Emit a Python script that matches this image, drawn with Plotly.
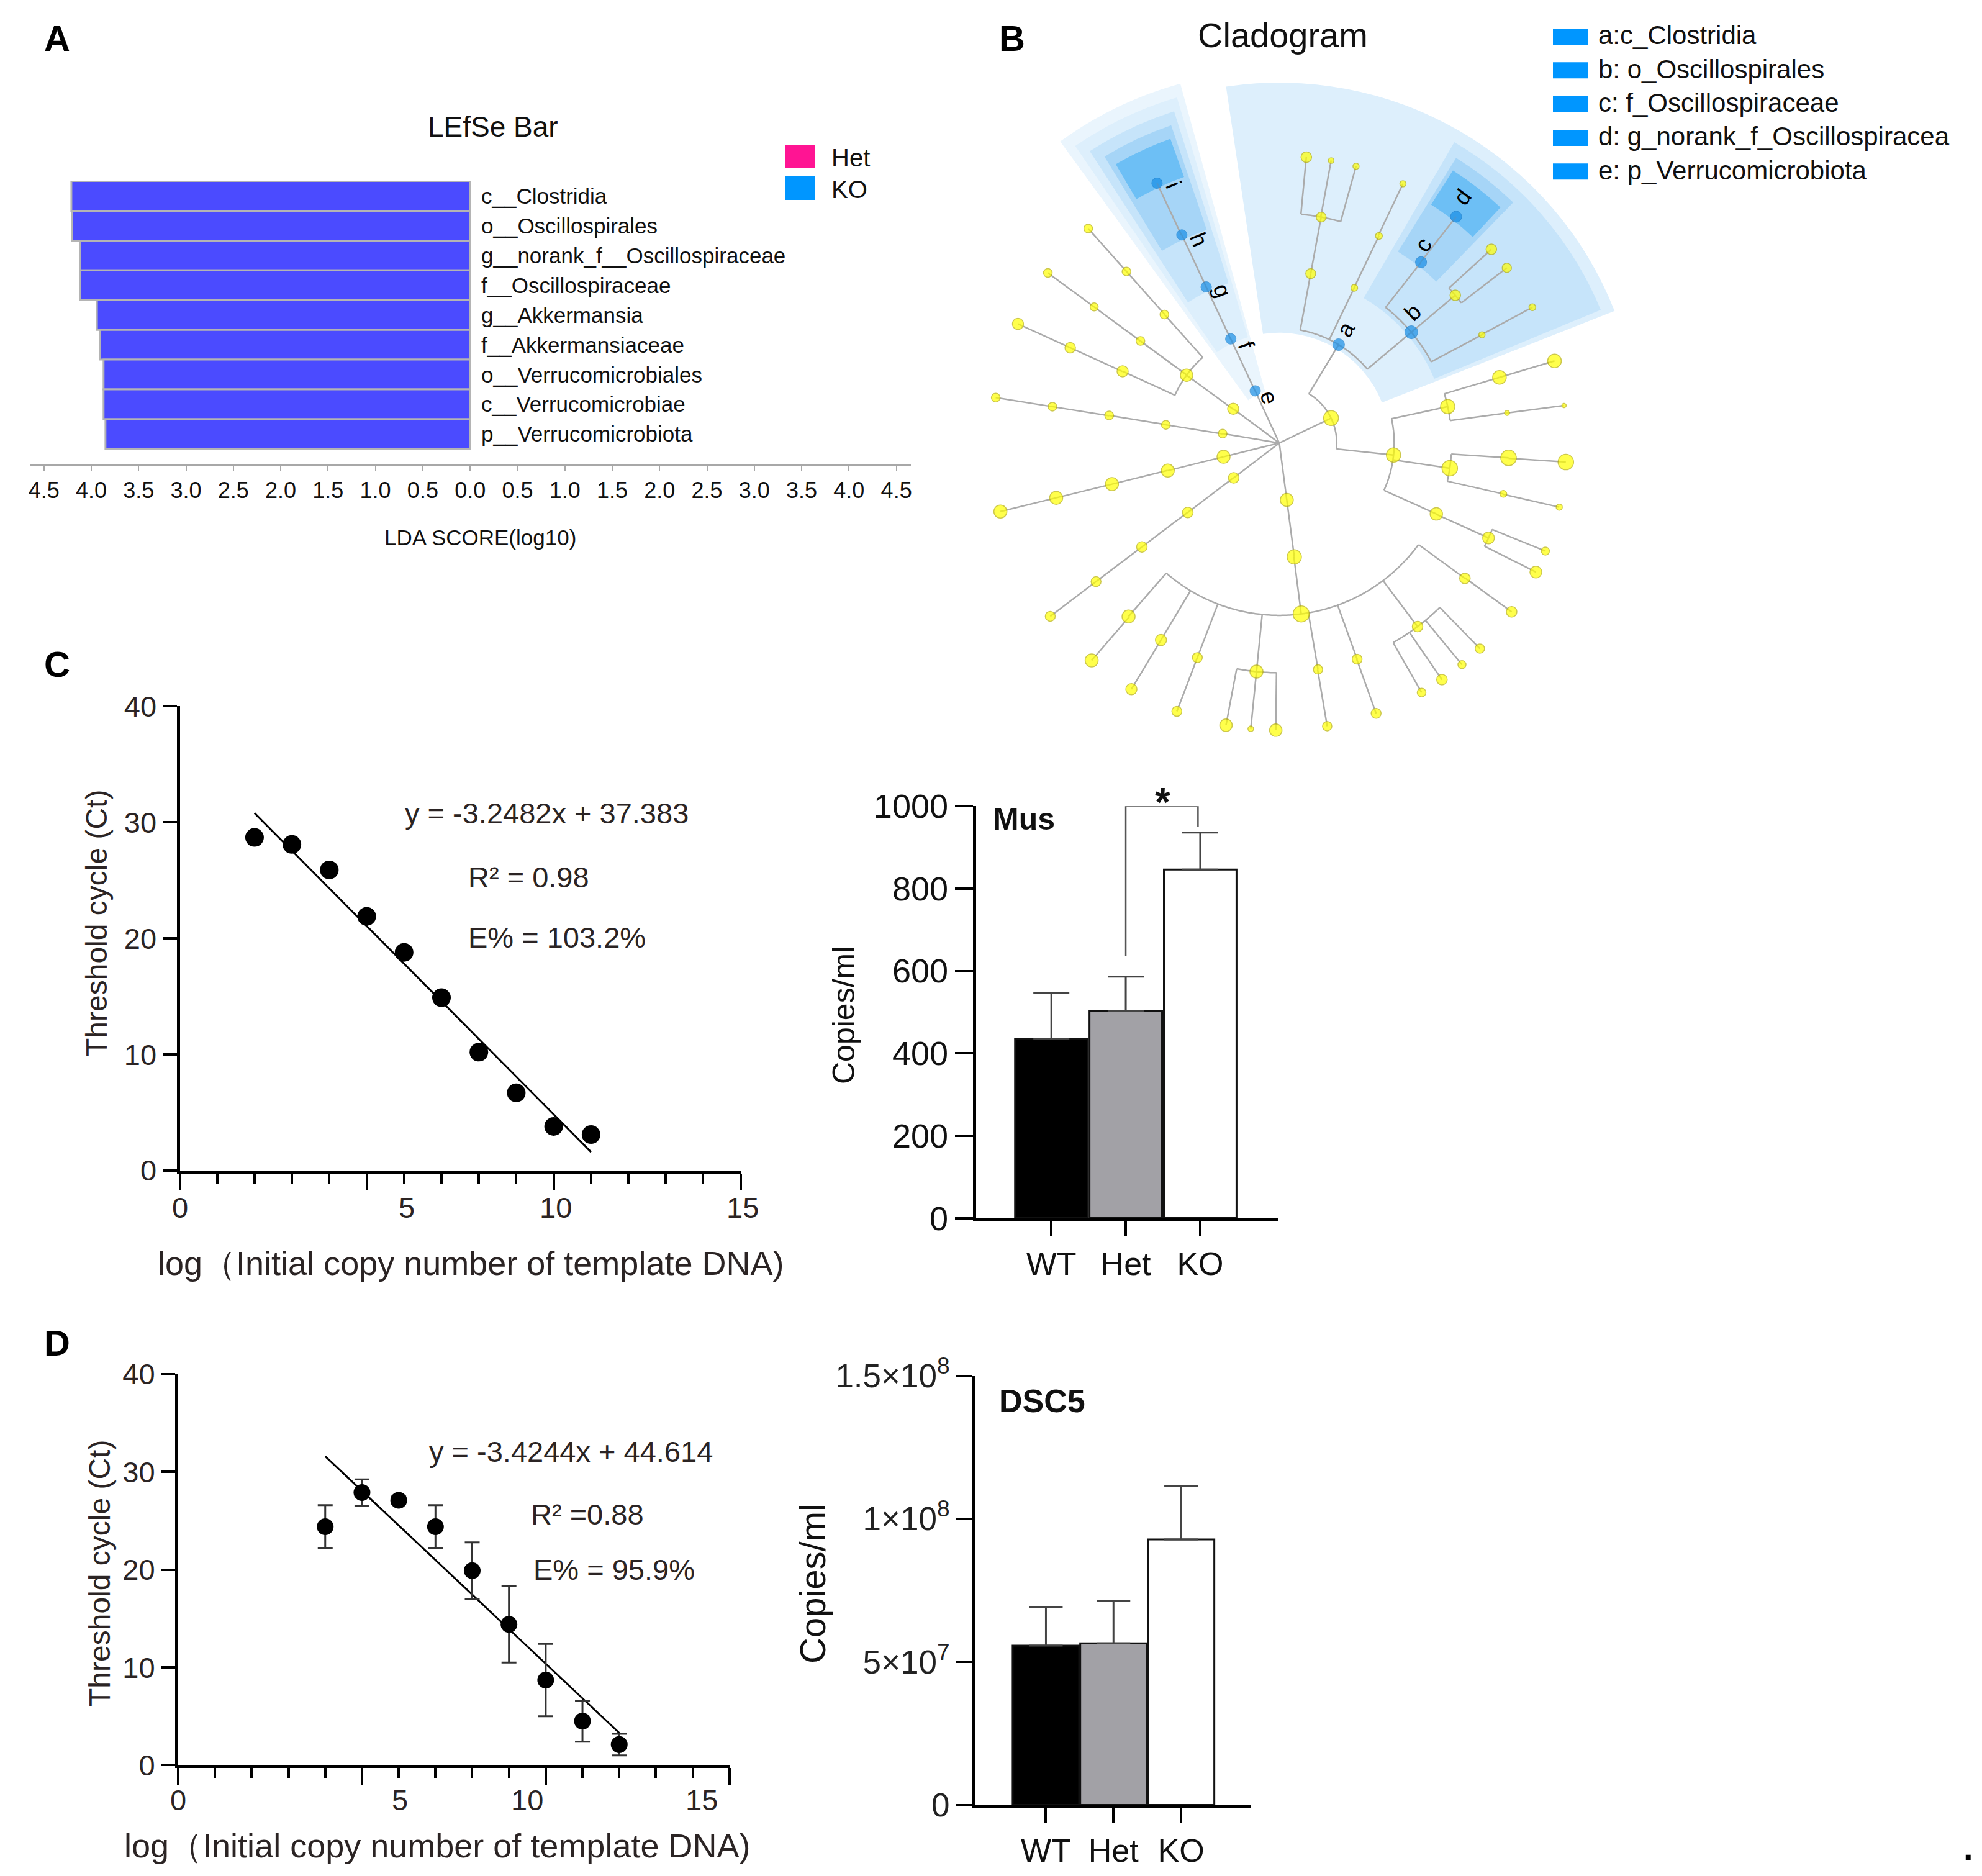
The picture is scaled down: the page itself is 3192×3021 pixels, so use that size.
import math
import plotly.graph_objects as go

W, H = 3192, 3021
FONT = "Liberation Sans, Arial, sans-serif"
DARK = "#2b2424"

# ---------------- Panel A : LEfSe bar ----------------
lefse_taxa = ["c__Clostridia", "o__Oscillospirales", "g__norank_f__Oscillospiraceae",
              "f__Oscillospiraceae", "g__Akkermansia", "f__Akkermansiaceae",
              "o__Verrucomicrobiales", "c__Verrucomicrobiae", "p__Verrucomicrobiota"]
lefse_lda = [4.21, 4.20, 4.12, 4.12, 3.94, 3.91, 3.87, 3.87, 3.85]
lda_tick_values = [-4.5, -4.0, -3.5, -3.0, -2.5, -2.0, -1.5, -1.0, -0.5, 0.0,
                   0.5, 1.0, 1.5, 2.0, 2.5, 3.0, 3.5, 4.0, 4.5]
lda_tick_text = ["4.5", "4.0", "3.5", "3.0", "2.5", "2.0", "1.5", "1.0", "0.5", "0.0",
                 "0.5", "1.0", "1.5", "2.0", "2.5", "3.0", "3.5", "4.0", "4.5"]
lefse_groups = ["Het", "KO"]
lefse_group_colors = ["#FF1493", "#0096FF"]

# ---------------- Panel B : cladogram ----------------
clade_id = ["P1", "a", "a1", "a1x", "a1x1", "a1x2", "a1x3", "a2", "a2x", "a2x1",
            "b", "c", "d", "b2", "b2a", "b2b", "b3", "b3a",
            "B1", "B1a", "B1a1", "B1a1x", "B1a2", "B1a2x", "B1b", "B1b1", "B1b1x", "B1b2", "B1b2x",
            "B1c", "B1c1", "B1c1a", "B1c1b",
            "P2", "P2c", "P2o", "F1", "F1x", "F2", "F2x", "F3", "F3x", "F4", "F4a", "F4b", "F4c",
            "F5", "F5x", "F6", "F6x", "F7", "F7a", "F7b", "F7c", "F7d", "F8", "F8x",
            "P3", "P3c", "P3o", "P3f", "P3g",
            "P4", "P4c", "P4o", "P4f", "P4g",
            "P5", "P5c", "P5o", "P5f", "P5g",
            "P6", "D", "C3", "C4", "C5", "H3", "H4", "H5", "E3", "E4", "E5",
            "e", "f", "g", "h", "i"]
clade_parent = ["root", "P1", "a", "a1", "a1x", "a1x", "a1x", "a", "a2", "a2x",
                "a", "b", "c", "b", "b2", "b2", "b", "b3",
                "P1", "B1", "B1a", "B1a1", "B1a", "B1a2", "B1", "B1b", "B1b1", "B1b", "B1b2",
                "B1", "B1c", "B1c1", "B1c1",
                "root", "P2", "P2c", "P2o", "F1", "P2o", "F2", "P2o", "F3", "P2o", "F4", "F4", "F4",
                "P2o", "F5", "P2o", "F6", "P2o", "F7", "F7", "F7", "F7", "P2o", "F8",
                "root", "P3", "P3c", "P3o", "P3f",
                "root", "P4", "P4c", "P4o", "P4f",
                "root", "P5", "P5c", "P5o", "P5f",
                "root", "P6", "D", "C3", "C4", "D", "H3", "H4", "D", "E3", "E4",
                "root", "e", "f", "g", "h"]
clade_level = [1, 2, 3, 4, 5, 5, 5, 3, 4, 5,
               3, 4, 5, 4, 5, 5, 4, 5,
               2, 3, 4, 5, 4, 5, 3, 4, 5, 4, 5,
               3, 4, 5, 5,
               1, 2, 3, 4, 5, 4, 5, 4, 5, 4, 5, 5, 5,
               4, 5, 4, 5, 4, 5, 5, 5, 5, 4, 5,
               1, 2, 3, 4, 5,
               1, 2, 3, 4, 5,
               1, 2, 3, 4, 5,
               1, 2, 3, 4, 5, 3, 4, 5, 3, 4, 5,
               1, 2, 3, 4, 5]
clade_angle = [25.7, 58.9, 79.5, 79.5, 84.6, 79.6, 74.5, 64.2, 64.3, 64.5,
               40.0, 51.9, 52.0, 40.0, 42.4, 37.6, 28.1, 28.2,
               -6.0, 12.2, 16.6, 16.6, 7.5, 7.5, -8.4, -3.7, -3.8, -12.8, -12.9,
               -24.3, -24.4, -22.1, -26.7,
               277.5, 277.5, 277.3, 229.0, 229.2, 239.0, 239.0, 249.1, 249.1, 264.3, 259.3, 264.3, 269.3,
               279.7, 279.6, 289.8, 289.7, 307.0, 299.7, 304.5, 309.5, 314.3, 323.9, 324.0,
               217.4, 217.2, 217.1, 217.1, 217.1,
               193.9, 193.9, 193.8, 193.8, 193.8,
               170.6, 170.9, 170.8, 170.9, 170.9,
               143.4, 143.8, 131.8, 131.7, 131.7, 143.7, 143.7, 143.7, 155.4, 155.5, 155.5,
               114.8, 115.0, 115.1, 115.1, 115.2]
clade_size = [24, 19, 16, 16, 17, 9, 10, 11, 11, 10,
              21, 18, 18, 17, 17, 15, 10, 11,
              23, 23, 22, 22, 8, 7, 25, 25, 25, 11, 10,
              20, 19, 13, 19,
              21, 23, 26, 21, 21, 18, 18, 16, 16, 21, 20, 9, 20,
              15, 15, 16, 16, 17, 14, 17, 13, 15, 17, 17,
              17, 17, 17, 16, 16,
              21, 21, 21, 21, 21,
              14, 14, 14, 14, 14,
              18, 20, 14, 14, 14, 14, 13, 14, 18, 17, 18,
              17, 17, 17, 17, 17]
clade_enriched = ["a", "b", "c", "d", "e", "f", "g", "h", "i"]
hl_theta_start = [21.5, 22.5, 45.8, 46.8, 105.4, 106.5, 107.6, 108.8, 109.7]
hl_theta_end = [98.5, 59.8, 58.2, 57.5, 126.0, 124.5, 123.0, 121.4, 120.4]
letter_r = [2.30, 3.26, 4.27, 5.34, 0.81, 1.80, 2.83, 3.80, 4.86]
letter_theta = [59.6, 44.4, 54.0, 53.3, 102.4, 109.0, 110.5, 111.6, 112.3]
clado_legend = ["a:c_Clostridia", "b: o_Oscillospirales", "c: f_Oscillospiraceae",
                "d: g_norank_f_Oscillospiracea", "e: p_Verrucomicrobiota"]

# ---------------- Panel C ----------------
c_log_copy = [2, 3, 4, 5, 6, 7, 8, 9, 10, 11]
c_ct = [28.7, 28.1, 25.9, 21.9, 18.8, 14.9, 10.2, 6.7, 3.8, 3.1]
c_fit_x = [2.0, 11.0]
c_fit_y = [30.8, 1.6]
c_xlabel_text = ["0", "5", "10", "15"]
c_xlabel_at = [0.0, 6.07, 10.05, 15.06]
groups = ["WT", "Het", "KO"]
group_colors = ["#000000", "#A2A1A6", "#FFFFFF"]
mus_mean = [435, 503, 846]
mus_sem = [111, 83, 90]
mus_sig_x = [2.0, 2.0, 2.97, 2.97]
mus_sig_y = [636, 1000, 1000, 949]

# ---------------- Panel D ----------------
d_log_copy = [4, 5, 6, 7, 8, 9, 10, 11, 12]
d_ct = [24.4, 27.9, 27.1, 24.4, 19.9, 14.4, 8.7, 4.5, 2.1]
d_ct_err = [2.2, 1.35, 0.4, 2.2, 2.9, 3.9, 3.7, 2.1, 1.1]
d_fit_x = [4.0, 12.0]
d_fit_y = [31.6, 3.3]
d_xlabel_at = [0.0, 6.04, 9.5, 14.24]
dsc5_mean = [5.57e7, 5.65e7, 9.28e7]
dsc5_sem = [1.35e7, 1.49e7, 1.87e7]


def px_x(x):
    return x / W


def px_y(y):
    return 1 - y / H


def note(x, y, text, size, color="#111111", xanchor="center", yanchor="middle",
         angle=0, xref="paper", yref="paper", bold=False):
    return dict(x=x, y=y, xref=xref, yref=yref, text=("<b>%s</b>" % text) if bold else text,
                showarrow=False, xanchor=xanchor, yanchor=yanchor, textangle=angle,
                font=dict(family=FONT, size=size, color=color))


# axis geometry (pixel positions of the plotting areas)
C_X0, C_X1 = 289.5, 1192.7
D_X0, D_X1 = 287.0, 1174.8
XRANGE = [0, 15]


def axis_paper(v, p0, p1, rng):
    return px_x(p0 + (v - rng[0]) / (rng[1] - rng[0]) * (p1 - p0))


fig = go.Figure()
ann = []
shapes = []

# ===== Panel A =====
n_taxa = len(lefse_taxa)
ypos = [n_taxa - 1 - k for k in range(n_taxa)]
fig.add_trace(go.Bar(
    x=[-v for v in lefse_lda], y=ypos, orientation="h", width=1.0,
    marker=dict(color="#4B4BFF", line=dict(color="#B4B4B4", width=3)),
    xaxis="x", yaxis="y", showlegend=False, hoverinfo="skip"))
for t, yy in zip(lefse_taxa, ypos):
    ann.append(note(0.105, yy, t, 35, xanchor="left", xref="x", yref="y"))
ann.append(note(px_x(794), px_y(204), "LEfSe Bar", 46))
ann.append(note(px_x(773), px_y(865), "LDA SCORE(log10)", 35))
for k, (g, col) in enumerate(zip(lefse_groups, lefse_group_colors)):
    yc = 252 + k * 51
    shapes.append(dict(type="rect", xref="paper", yref="paper",
                       x0=px_x(1265), x1=px_x(1312), y0=px_y(yc - 19), y1=px_y(yc + 19),
                       fillcolor=col, line=dict(width=0)))
    ann.append(note(px_x(1337), px_y(yc + 2), g, 40, xanchor="left"))

# ===== Panel B : cladogram (polar) =====
CX, CY = 2060.3, 713.4
LEVEL_PX = 92.5
R_MAX = 6.6
RP = R_MAX * LEVEL_PX
idx = {n: i for i, n in enumerate(clade_id)}
children = {}
for n, p in zip(clade_id, clade_parent):
    children.setdefault(p, []).append(n)

level_colors = {1: "#EAF5FD", 2: "#DDEFFC", 3: "#C6E4FA", 4: "#A6D5F7", 5: "#6DBFF5"}
sec_theta, sec_width, sec_base, sec_r, sec_col = [], [], [], [], []
for name, t0, t1 in zip(clade_enriched, hl_theta_start, hl_theta_end):
    lv = clade_level[idx[name]]
    r_in = lv - 0.08
    r_out = 6.49 - 0.216 * (lv - 1)
    sec_theta.append((t0 + t1) / 2)
    sec_width.append(t1 - t0)
    sec_base.append(r_in)
    sec_r.append(r_out - r_in)
    sec_col.append(level_colors[lv])
order = sorted(range(len(sec_theta)), key=lambda k: clade_level[idx[clade_enriched[k]]])
fig.add_trace(go.Barpolar(
    theta=[sec_theta[k] for k in order], width=[sec_width[k] for k in order],
    base=[sec_base[k] for k in order], r=[sec_r[k] for k in order],
    marker=dict(color=[sec_col[k] for k in order], line=dict(width=0)),
    subplot="polar", showlegend=False, hoverinfo="skip"))

edge_r, edge_t = [], []
for i, n in enumerate(clade_id):
    p = clade_parent[i]
    r0 = 0 if p == "root" else clade_level[idx[p]]
    edge_r += [r0, clade_level[i], None]
    edge_t += [clade_angle[i], clade_angle[i], None]
for p, kids in children.items():
    if p == "root":
        continue
    angs = [clade_angle[idx[k]] for k in kids] + [clade_angle[idx[p]]]
    lo, hi = min(angs), max(angs)
    if hi - lo < 0.05:
        continue
    steps = max(2, int((hi - lo) / 0.5) + 1)
    rr = clade_level[idx[p]]
    for j in range(steps + 1):
        edge_t.append(lo + (hi - lo) * j / steps)
        edge_r.append(rr)
    edge_r.append(None)
    edge_t.append(None)
fig.add_trace(go.Scatterpolar(r=edge_r, theta=edge_t, mode="lines",
                              line=dict(color="#ABABAB", width=2.5),
                              subplot="polar", showlegend=False, hoverinfo="skip",
                              connectgaps=False))
yel = [i for i, n in enumerate(clade_id) if n not in clade_enriched]
blu = [i for i, n in enumerate(clade_id) if n in clade_enriched]
fig.add_trace(go.Scatterpolar(
    r=[clade_level[i] for i in yel], theta=[clade_angle[i] for i in yel], mode="markers",
    marker=dict(size=[clade_size[i] for i in yel], color="#FFFF00",
                line=dict(color="#B9B200", width=1.5)),
    subplot="polar", showlegend=False, hoverinfo="skip"))
fig.add_trace(go.Scatterpolar(
    r=[clade_level[i] for i in blu], theta=[clade_angle[i] for i in blu], mode="markers",
    marker=dict(size=[clade_size[i] for i in blu], color="#1A8FE6",
                line=dict(color="#1479C8", width=1)),
    subplot="polar", showlegend=False, hoverinfo="skip"))

for name, lr, lt in zip(clade_enriched, letter_r, letter_theta):
    xx = CX + lr * LEVEL_PX * math.cos(math.radians(lt))
    yy = CY - lr * LEVEL_PX * math.sin(math.radians(lt))
    ang = -lt if lt < 90 else 180 - lt
    ann.append(note(px_x(xx), px_y(yy), name, 37, color="#000000", angle=ang))
ann.append(note(px_x(2066), px_y(57), "Cladogram", 56))
for k, t in enumerate(clado_legend):
    yc = 59 + k * 54.3
    shapes.append(dict(type="rect", xref="paper", yref="paper",
                       x0=px_x(2501), x1=px_x(2558), y0=px_y(yc - 13), y1=px_y(yc + 13),
                       fillcolor="#0096FF", line=dict(width=0)))
    ann.append(note(px_x(2572), px_y(yc - 2), t, 42, xanchor="left"))

# ===== Panel C : standard curve =====
fig.add_trace(go.Scatter(x=c_fit_x, y=c_fit_y, mode="lines", line=dict(color="black", width=3),
                         xaxis="x2", yaxis="y2", showlegend=False, hoverinfo="skip"))
fig.add_trace(go.Scatter(x=c_log_copy, y=c_ct, mode="markers",
                         marker=dict(color="black", size=30),
                         xaxis="x2", yaxis="y2", showlegend=False, hoverinfo="skip"))
for txt, xx, yy in [("y = -3.2482x + 37.383", 5.99, 30.8), ("R² = 0.98", 7.68, 25.3),
                    ("E% = 103.2%", 7.68, 20.1)]:
    ann.append(note(xx, yy, txt, 47, color=DARK, xanchor="left", xref="x2", yref="y2"))
for t, xx in zip(c_xlabel_text, c_xlabel_at):
    ann.append(note(axis_paper(xx, C_X0, C_X1, XRANGE), px_y(1944), t, 47, color=DARK))
ann.append(note(px_x(758), px_y(2034), "log（Initial copy number of template DNA)", 54, color=DARK))
ann.append(note(px_x(155), px_y(1487), "Threshold cycle (Ct)", 48, color=DARK, angle=-90))

# ===== Panel C : Mus bars =====
gx = [1, 2, 3]
fig.add_trace(go.Bar(x=gx, y=mus_mean, width=0.975,
                     marker=dict(color=group_colors, line=dict(color="#111111", width=3)),
                     error_y=dict(type="data", array=mus_sem, arrayminus=[0, 0, 0], symmetric=False,
                                  color="#444444", thickness=3, width=29),
                     xaxis="x3", yaxis="y3", showlegend=False, hoverinfo="skip"))
fig.add_trace(go.Scatter(x=mus_sig_x, y=mus_sig_y, mode="lines", line=dict(color="#555555", width=2.5),
                         xaxis="x3", yaxis="y3", showlegend=False, hoverinfo="skip", cliponaxis=False))
ann.append(note(px_x(1872), px_y(1292), "*", 64, bold=True))
ann.append(note(0.2, 968, "Mus", 50, xanchor="left", xref="x3", yref="y3", bold=True))
ann.append(note(px_x(1359), px_y(1635), "Copies/ml", 50, angle=-90))

# ===== Panel D : standard curve =====
fig.add_trace(go.Scatter(x=d_fit_x, y=d_fit_y, mode="lines", line=dict(color="black", width=3),
                         xaxis="x4", yaxis="y4", showlegend=False, hoverinfo="skip"))
fig.add_trace(go.Scatter(x=d_log_copy, y=d_ct, mode="markers",
                         marker=dict(color="black", size=27),
                         error_y=dict(type="data", array=d_ct_err, color="#333333", thickness=3, width=12),
                         xaxis="x4", yaxis="y4", showlegend=False, hoverinfo="skip"))
for txt, xx, yy in [("y = -3.4244x + 44.614", 6.79, 32.1), ("R² =0.88", 9.57, 25.7),
                    ("E% = 95.9%", 9.63, 20.0)]:
    ann.append(note(xx, yy, txt, 47, color=DARK, xanchor="left", xref="x4", yref="y4"))
for t, xx in zip(c_xlabel_text, d_xlabel_at):
    ann.append(note(axis_paper(xx, D_X0, D_X1, XRANGE), px_y(2898), t, 47, color=DARK))
ann.append(note(px_x(704), px_y(2972), "log（Initial copy number of template DNA)", 54, color=DARK))
ann.append(note(px_x(160), px_y(2534), "Threshold cycle (Ct)", 48, color=DARK, angle=-90))

# ===== Panel D : DSC5 bars =====
fig.add_trace(go.Bar(x=gx, y=dsc5_mean, width=0.985,
                     marker=dict(color=group_colors, line=dict(color="#111111", width=3)),
                     error_y=dict(type="data", array=dsc5_sem, arrayminus=[0, 0, 0], symmetric=False,
                                  color="#444444", thickness=3, width=27),
                     xaxis="x5", yaxis="y5", showlegend=False, hoverinfo="skip"))
ann.append(note(0.29, 1.413e8, "DSC5", 52, xanchor="left", xref="x5", yref="y5", bold=True))
ann.append(note(px_x(1308), px_y(2550), "Copies/ml", 58, angle=-90))

# panel letters
for lab, xx, yy in [("A", 92, 61), ("B", 1630, 61), ("C", 92, 1069), ("D", 92, 2162)]:
    ann.append(note(px_x(xx), px_y(yy), lab, 58, color="#000000", bold=True))
ann.append(note(px_x(3170), px_y(2975), ".", 56, color="#000000", bold=True))

axis_common = dict(showgrid=False, zeroline=False, showline=True, linecolor="black", linewidth=5,
                   ticks="outside", tickcolor="black", tickwidth=4, automargin=False)

fig.update_layout(
    width=W, height=H, margin=dict(l=0, r=0, t=0, b=0, pad=0, autoexpand=False),
    paper_bgcolor="white", plot_bgcolor="rgba(0,0,0,0)",
    font=dict(family=FONT, color="#111111"),
    barmode="overlay", showlegend=False,
    annotations=ann, shapes=shapes,
    xaxis=dict(domain=[px_x(47.8), px_x(1466.5)], range=[-4.65, 4.65], anchor="y",
               showgrid=False, zeroline=False, showline=True, linecolor="#A8A8A8", linewidth=3,
               ticks="outside", tickcolor="#A8A8A8", tickwidth=2, ticklen=8, automargin=False,
               tickvals=lda_tick_values, ticktext=lda_tick_text,
               tickfont=dict(family=FONT, size=36, color="#111111")),
    yaxis=dict(domain=[px_y(748), px_y(291.6)], range=[-1.026, 8.5], anchor="x", visible=False),
    xaxis2=dict(domain=[px_x(C_X0), px_x(C_X1)], range=XRANGE, anchor="y2",
                tickvals=[0, 5, 10, 15], ticklen=27, showticklabels=False,
                minor=dict(dtick=1, tick0=0, ticklen=16, tickwidth=4, tickcolor="black", ticks="outside"),
                **axis_common),
    yaxis2=dict(domain=[px_y(1885), px_y(1137.4)], range=[0, 40], anchor="x2",
                tickvals=[0, 10, 20, 30, 40], ticklen=23,
                tickfont=dict(family=FONT, size=47, color=DARK), **axis_common),
    xaxis3=dict(domain=[px_x(1571.8), px_x(2058)], range=[-0.0125, 4.043], anchor="y3",
                tickvals=gx, ticktext=groups, ticklen=24,
                tickfont=dict(family=FONT, size=52, color="#111111"), **axis_common),
    yaxis3=dict(domain=[px_y(1961.6), px_y(1298.2)], range=[0, 1000], anchor="x3",
                tickvals=[0, 200, 400, 600, 800, 1000], ticklen=29,
                tickfont=dict(family=FONT, size=54, color="#111111"), **axis_common),
    xaxis4=dict(domain=[px_x(D_X0), px_x(D_X1)], range=XRANGE, anchor="y4",
                tickvals=[0, 5, 10, 15], ticklen=27, showticklabels=False,
                minor=dict(dtick=1, tick0=0, ticklen=16, tickwidth=4, tickcolor="black", ticks="outside"),
                **axis_common),
    yaxis4=dict(domain=[px_y(2842.4), px_y(2213)], range=[0, 40], anchor="x4",
                tickvals=[0, 10, 20, 30, 40], ticklen=23,
                tickfont=dict(family=FONT, size=47, color=DARK), **axis_common),
    xaxis5=dict(domain=[px_x(1571.2), px_x(2015)], range=[-0.041, 4.038], anchor="y5",
                tickvals=gx, ticktext=groups, ticklen=24,
                tickfont=dict(family=FONT, size=52, color="#111111"), **axis_common),
    yaxis5=dict(domain=[px_y(2906.6), px_y(2215.6)], range=[0, 1.5e8], anchor="x5",
                tickvals=[0, 5e7, 1e8, 1.5e8],
                ticktext=["0", "5×10<sup>7</sup>", "1×10<sup>8</sup>", "1.5×10<sup>8</sup>"],
                ticklen=26, tickfont=dict(family=FONT, size=53, color="#222222"), **axis_common),
    polar=dict(domain=dict(x=[px_x(CX - RP), px_x(CX + RP)], y=[px_y(CY + RP), px_y(CY - RP)]),
               bgcolor="rgba(0,0,0,0)", hole=0,
               radialaxis=dict(range=[0, R_MAX], visible=False, showgrid=False, showline=False),
               angularaxis=dict(rotation=0, direction="counterclockwise", visible=False,
                                showgrid=False, showline=False)),
)

fig.write_html("out.html", config={"displayModeBar": False},
               post_script="document.body.style.margin='0';document.body.style.overflow='hidden';")
